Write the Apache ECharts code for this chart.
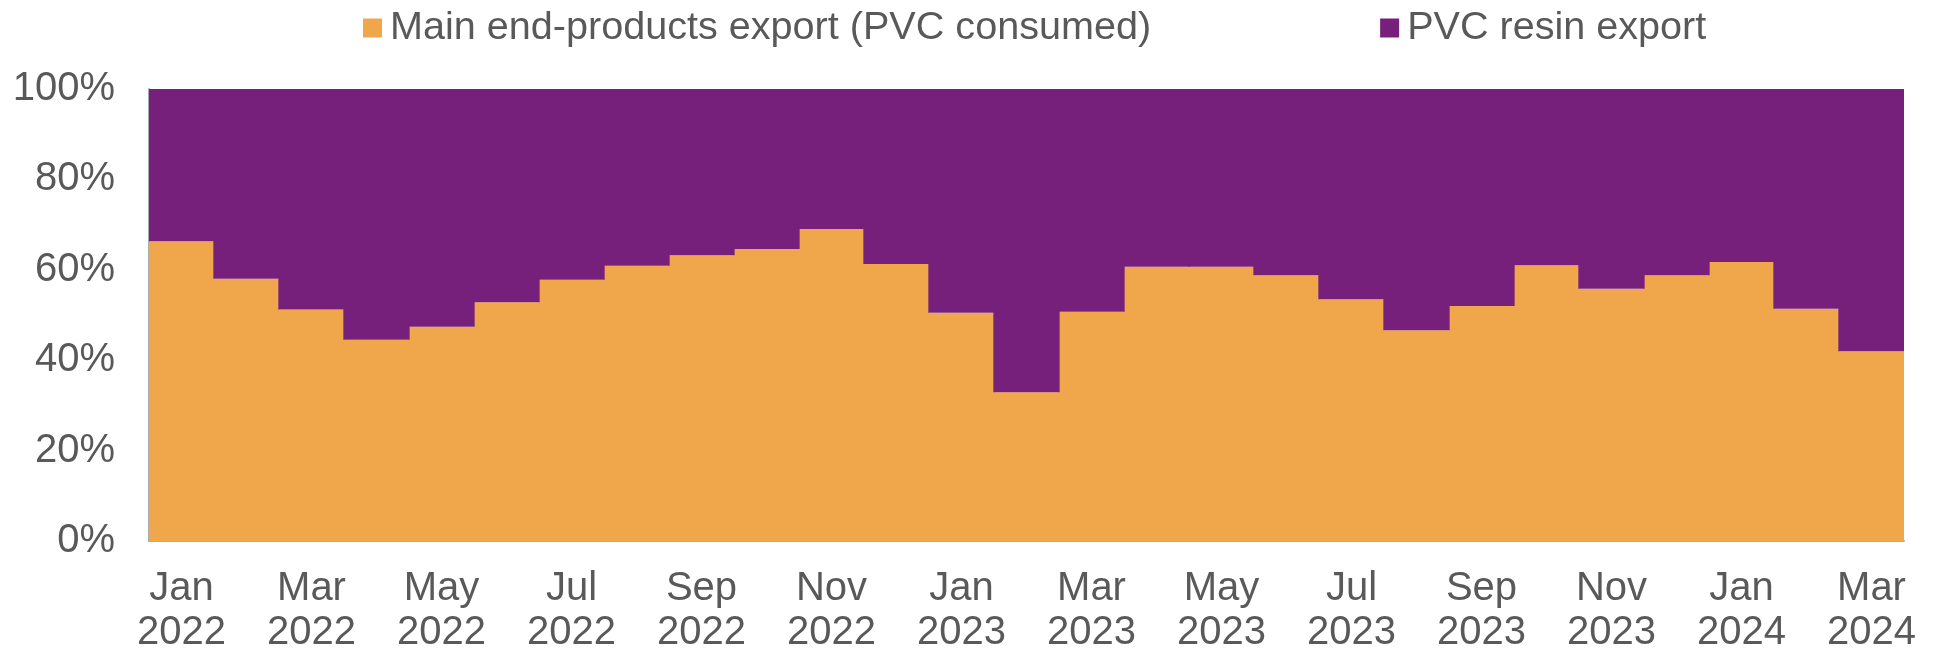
<!DOCTYPE html>
<html>
<head>
<meta charset="utf-8">
<script src="https://cdn.jsdelivr.net/npm/echarts@6/dist/echarts.min.js"></script>
<style>
  html, body { margin: 0; padding: 0; background: #ffffff; }
  #chart { width: 1937px; height: 655px; }
</style>
</head>
<body>
<div id="chart"></div>
<script>
// Monthly categories, Jan 2022 - Mar 2024
const months = [
  'Jan\n2022', 'Feb\n2022', 'Mar\n2022', 'Apr\n2022', 'May\n2022', 'Jun\n2022',
  'Jul\n2022', 'Aug\n2022', 'Sep\n2022', 'Oct\n2022', 'Nov\n2022', 'Dec\n2022',
  'Jan\n2023', 'Feb\n2023', 'Mar\n2023', 'Apr\n2023', 'May\n2023', 'Jun\n2023',
  'Jul\n2023', 'Aug\n2023', 'Sep\n2023', 'Oct\n2023', 'Nov\n2023', 'Dec\n2023',
  'Jan\n2024', 'Feb\n2024', 'Mar\n2024'
];

// Share of PVC exported inside main end-products (%)
const endProductsShare = [
  66.3, 58.0, 51.2, 44.5, 47.4, 52.8, 57.8, 60.9, 63.2, 64.6, 69.0, 61.3,
  50.5, 32.9, 50.7, 60.7, 60.7, 58.8, 53.5, 46.6, 52.0, 61.0, 55.8, 58.8,
  61.7, 51.4, 42.0
];

// Share of PVC exported as resin (%)
const resinShare = [
  33.7, 42.0, 48.8, 55.5, 52.6, 47.2, 42.2, 39.1, 36.8, 35.4, 31.0, 38.7,
  49.5, 67.1, 49.3, 39.3, 39.3, 41.2, 46.5, 53.4, 48.0, 39.0, 44.2, 41.2,
  38.3, 48.6, 58.0
];

const FONT = "'Liberation Sans', Arial, sans-serif";
const TEXT_COLOR = '#595959';
const ORANGE = '#F0A64B';
const PURPLE = '#76207C';

const chart = echarts.init(document.getElementById('chart'), null, { renderer: 'canvas' });

chart.setOption({
  animation: false,
  backgroundColor: '#ffffff',
  textStyle: { fontFamily: FONT },
  legend: {
    top: 3,
    left: 358,
    itemGap: 229,
    itemWidth: 19,
    itemHeight: 19,
    icon: 'rect',
    textStyle: {
      fontFamily: FONT,
      fontSize: 39.6,
      color: TEXT_COLOR,
      padding: [0, 0, 0, 3]
    },
    data: ['Main end-products export (PVC consumed)', 'PVC resin export']
  },
  grid: {
    left: 149,
    right: 33,
    top: 89,
    bottom: 111,
    containLabel: false
  },
  xAxis: {
    type: 'category',
    data: months,
    axisLine: { show: true, lineStyle: { color: '#ADADAD', width: 2 } },
    axisTick: { show: false },
    axisLabel: {
      interval: 1,
      margin: 26,
      fontFamily: FONT,
      fontSize: 40,
      lineHeight: 44,
      color: TEXT_COLOR
    },
    splitLine: { show: false }
  },
  yAxis: {
    type: 'value',
    min: 0,
    max: 100,
    interval: 20,
    axisLine: { show: true, lineStyle: { color: '#ADADAD', width: 2 } },
    axisTick: { show: false },
    splitLine: { show: false },
    axisLabel: {
      margin: 34,
      formatter: '{value}%',
      fontFamily: FONT,
      fontSize: 40,
      color: TEXT_COLOR
    }
  },
  series: [
    {
      name: 'Main end-products export (PVC consumed)',
      type: 'bar',
      stack: 'share',
      barWidth: '102%',
      itemStyle: { color: ORANGE },
      data: endProductsShare
    },
    {
      name: 'PVC resin export',
      type: 'bar',
      stack: 'share',
      barWidth: '102%',
      itemStyle: { color: PURPLE },
      data: resinShare
    }
  ]
});
</script>
</body>
</html>
